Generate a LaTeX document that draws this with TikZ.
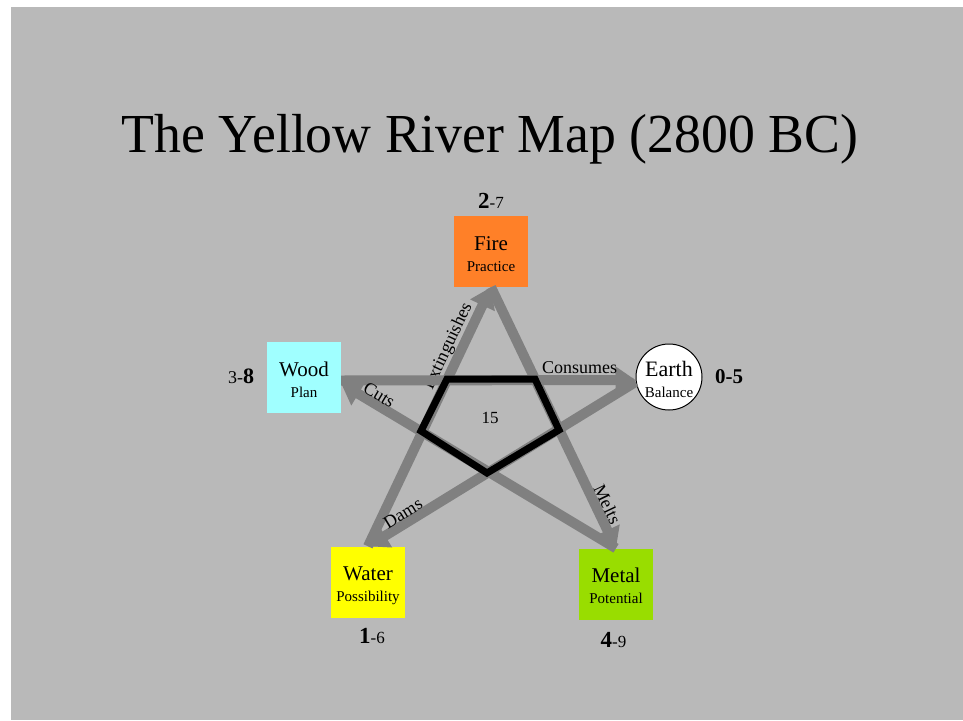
\documentclass[tikz,border=0pt]{standalone}
\usepackage{fontspec}
\setmainfont{Liberation Serif}
\usetikzlibrary{arrows.meta}
\definecolor{bg}{HTML}{B9B9B9}
\definecolor{edgegray}{HTML}{808080}
\definecolor{firec}{HTML}{FF8028}
\definecolor{woodc}{HTML}{A0FFFF}
\definecolor{waterc}{HTML}{FFFF00}
\definecolor{metalc}{HTML}{99DD00}
\newcommand{\myfs}[1]{\fontsize{#1}{21}\selectfont}
\begin{document}
\begin{tikzpicture}[x=1pt,y=-1pt,
  elem/.style={rectangle, minimum width=74pt, minimum height=71pt, inner sep=0pt,
    align=center, font=\myfs{21}, text height=39pt, text depth=0pt},
  earthnode/.style={circle, draw=black, line width=1pt, fill=white, minimum size=66pt,
    inner sep=0pt, align=center, font=\myfs{22}, text height=40pt, text depth=0pt},
  flow/.style={draw=edgegray, line width=10pt, -{Triangle[length=20pt,width=26pt]}},
  flowlabel/.style={sloped, above, inner sep=1pt, font=\myfs{18}},
  num/.style={inner sep=0pt, anchor=base}]
\useasboundingbox (0,0) rectangle (963,720);
\fill[white] (0,0) rectangle (963,720);
\fill[bg] (11,7) rectangle (963,720);

\node[anchor=base, inner sep=0pt, font=\myfs{55}] (title) at (490,152) {\scalebox{0.977}[1]{The Yellow River Map (2800 BC)}};

\node[elem, fill=firec] (fire) at (491,251.5) {Fire\\{\myfs{15}Practice}};
\node[elem, fill=woodc] (wood) at (304,377.5) {Wood\\{\myfs{15}Plan}};
\node[earthnode] (earth) at (669,377) {Earth\\{\myfs{15}Balance}};
\node[elem, fill=waterc] (water) at (368,582) {Water\\{\myfs{15}Possibility}};
\node[elem, fill=metalc] (metal) at (616,584) {Metal\\{\myfs{15}Potential}};

\node[num] (nfire) at (491,208) {{\bfseries\myfs{23}2}{\myfs{17}-7}};
\node[num] (nwood) at (241,383) {{\myfs{18}3-}{\bfseries\myfs{22}8}};
\node[num] (nearth) at (729,383) {\bfseries\myfs{21}0-5};
\node[num] (nwater) at (372,643) {{\bfseries\myfs{23}1}{\myfs{17}-6}};
\node[num] (nmetal) at (613.5,647) {{\bfseries\myfs{23}4}{\myfs{17}-9}};

\draw[flow] (water.north) -- node[flowlabel, pos=0.75, inner sep=0pt] (lext) {Extinguishes} (fire.south);
\draw[flow] (fire.south) -- node[flowlabel, pos=0.85, inner sep=0pt] (lmelt) {Melts} (metal.north);
\draw[flow] ([yshift=-3pt]wood.east) -- node[flowlabel, pos=0.81] (lcons) {Consumes} ([yshift=-3pt]earth.west);
\draw[flow] (metal.north) -- node[flowlabel, pos=0.88, inner sep=-1pt] (lcuts) {Cuts} ([yshift=-6pt]wood.east);
\draw[flow] ([yshift=-5pt]earth.west) -- node[flowlabel, pos=0.85, inner sep=-1pt] (ldams) {Dams} (water.north);

\coordinate (p1) at (447,379);
\coordinate (p2) at (535,379);
\coordinate (p3) at (559,430);
\coordinate (p4) at (487,473);
\coordinate (p5) at (421,431);
\draw[black, line width=7pt, line join=miter] (p1) -- (p2) -- (p3) -- (p4) -- (p5) -- cycle;
\node[font=\myfs{17}] (center) at (490,418) {15};
\end{tikzpicture}
\end{document}
